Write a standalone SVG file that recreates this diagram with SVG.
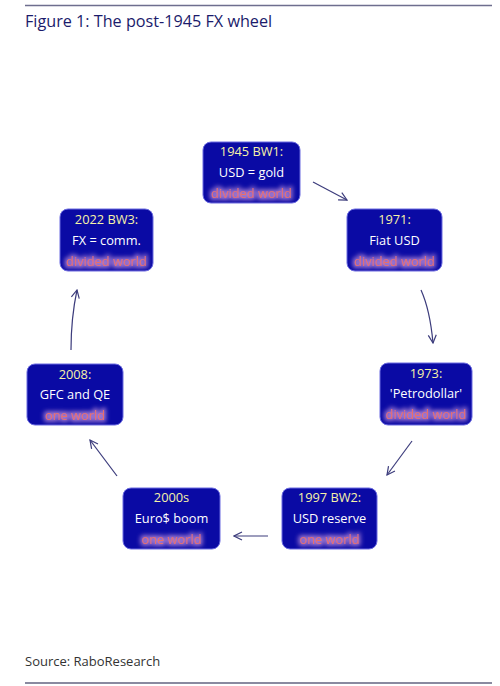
<svg xmlns="http://www.w3.org/2000/svg" width="500" height="686" viewBox="0 0 500 686">
<style>
.box{fill:#0a0aa4;stroke:#6a6ae0;stroke-width:1}
.t1{font-family:"Open Sans","Noto Sans",sans-serif;font-size:12.8px;fill:#f6f2a8;text-anchor:middle}
.t2{font-family:"Open Sans","Noto Sans",sans-serif;font-size:12.8px;fill:#ffffff;text-anchor:middle}
.t3{font-family:"Open Sans","Noto Sans",sans-serif;font-size:12.8px;fill:#e8706a;text-anchor:middle;filter:url(#glow)}
.arr{fill:none;stroke:#3c3c7c;stroke-width:1.2;marker-end:url(#ah)}
</style>
<defs>
<filter id="glow" x="-20%" y="-50%" width="140%" height="200%">
<feMorphology in="SourceAlpha" operator="dilate" radius="1.5" result="d"/>
<feGaussianBlur in="d" stdDeviation="2" result="b"/>
<feFlood flood-color="#b88ad8" flood-opacity="0.85"/>
<feComposite in2="b" operator="in" result="g"/>
<feMerge><feMergeNode in="g"/><feMergeNode in="SourceGraphic"/></feMerge>
</filter>
<marker id="ah" viewBox="0 0 10 10" refX="9" refY="5" markerWidth="10" markerHeight="10" markerUnits="userSpaceOnUse" orient="auto">
<path d="M1,1 L9,5 L1,9" fill="none" stroke="#3c3c7c" stroke-width="1.2"/>
</marker>
</defs>
<rect width="500" height="686" fill="#ffffff"/>
<line x1="25" y1="5.5" x2="492" y2="5.5" stroke="#6e6e8e" stroke-width="1.5"/>
<text x="25" y="27" font-family="Open Sans,Noto Sans,sans-serif" font-size="16.2" fill="#1b1b6b">Figure 1: The post-1945 FX wheel</text>
<g id="n1945"><rect class="box" x="203" y="142" width="97" height="61" rx="8"/><text class="t1" x="251.5" y="156">1945 BW1:</text><text class="t2" x="251.5" y="177">USD = gold</text><text class="t3" x="251.5" y="198">divided world</text></g>
<g id="n1971"><rect class="box" x="347" y="209" width="95" height="62" rx="8"/><text class="t1" x="394.5" y="224">1971:</text><text class="t2" x="394.5" y="245">Fiat USD</text><text class="t3" x="394.5" y="266">divided world</text></g>
<g id="n2022"><rect class="box" x="60" y="209" width="93" height="62" rx="8"/><text class="t1" x="106.5" y="224">2022 BW3:</text><text class="t2" x="106.5" y="245">FX = comm.</text><text class="t3" x="106.5" y="266">divided world</text></g>
<g id="n1973"><rect class="box" x="380" y="363" width="92" height="62" rx="8"/><text class="t1" x="426" y="378">1973:</text><text class="t2" x="426" y="398">'Petrodollar'</text><text class="t3" x="426" y="419">divided world</text></g>
<g id="n2008"><rect class="box" x="27" y="364" width="96" height="61" rx="8"/><text class="t1" x="75" y="379">2008:</text><text class="t2" x="75" y="399">GFC and QE</text><text class="t3" x="75" y="420">one world</text></g>
<g id="n2000s"><rect class="box" x="123" y="488" width="97" height="61" rx="8"/><text class="t1" x="171.5" y="502">2000s</text><text class="t2" x="171.5" y="523">Euro$ boom</text><text class="t3" x="171.5" y="544">one world</text></g>
<g id="n1997"><rect class="box" x="282" y="488" width="95" height="61" rx="8"/><text class="t1" x="329.5" y="502">1997 BW2:</text><text class="t2" x="329.5" y="523">USD reserve</text><text class="t3" x="329.5" y="544">one world</text></g>
<g id="connectors">
<path class="arr" d="M313,182 L347,200"/>
<path class="arr" d="M421,290 Q430,310 433,343"/>
<path class="arr" d="M412,441 L387,475"/>
<path class="arr" d="M268,536 L234,536"/>
<path class="arr" d="M117,476 L90,440"/>
<path class="arr" d="M71,350 Q71,318 77,290"/>
</g>
<text x="25" y="666" font-family="Open Sans,Noto Sans,sans-serif" font-size="13" fill="#333333">Source: RaboResearch</text>
<line x1="25" y1="683" x2="492" y2="683" stroke="#8a8aa0" stroke-width="2"/>
</svg>
